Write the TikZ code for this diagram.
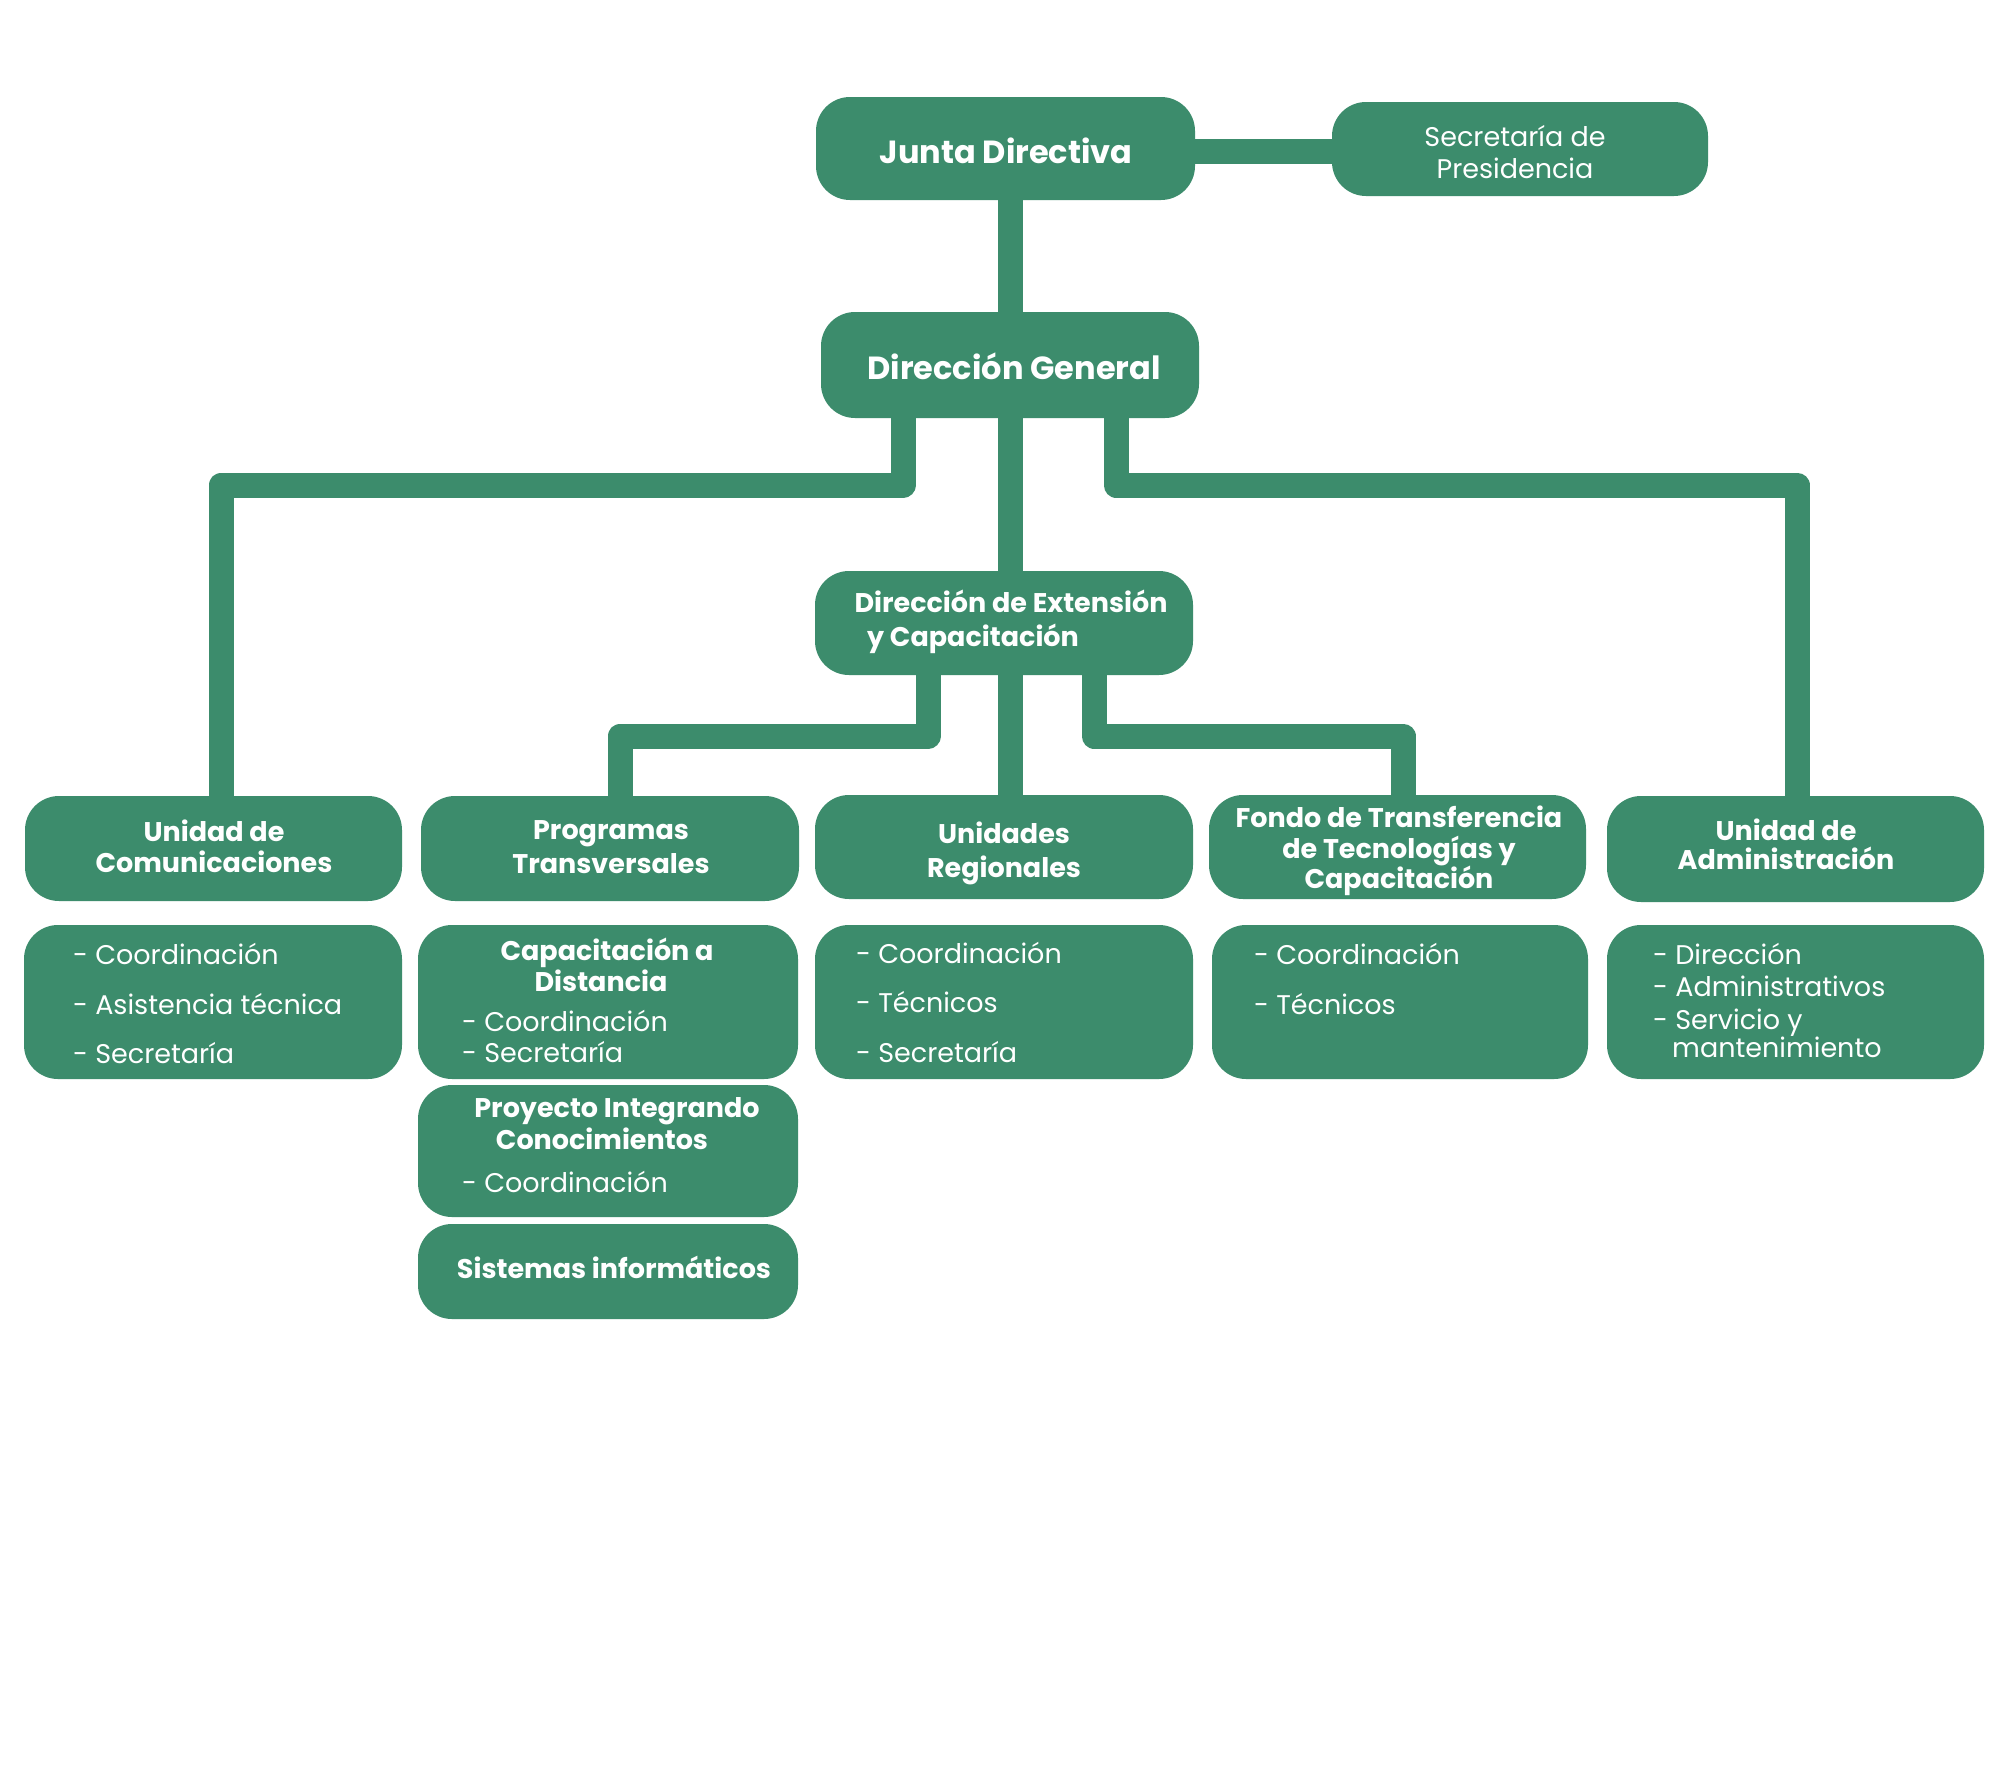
\documentclass[tikz,border=0pt]{standalone}
\usepackage{fontspec}
\setmainfont{Poppins}
\usetikzlibrary{backgrounds,calc}
\definecolor{gr}{RGB}{60,140,108}
\begin{document}
\begin{tikzpicture}[x=1pt,y=-1pt,
 conn/.style={draw=gr,line width=25pt,line join=round},
 box/.style={fill=gr,rounded corners=34pt,inner sep=0pt,outer sep=0pt},
 ttl/.style={text=white,font=\fontsize{27}{32}\selectfont\bfseries,inner sep=0pt,anchor=base},
 big/.style={text=white,font=\fontsize{32}{38}\selectfont\bfseries,inner sep=0pt,anchor=base},
 itm/.style={text=white,font=\fontsize{27}{32}\selectfont,inner sep=0pt,anchor=base west},
 itc/.style={text=white,font=\fontsize{27}{32}\selectfont,inner sep=0pt,anchor=base}]
\useasboundingbox (0,0) rectangle (2000,1772);
% boxes
\node[box,minimum width=379pt,minimum height=103pt] (jd) at (1005.5,148.5) {};
\node[box,minimum width=376pt,minimum height=94pt] (sp) at (1520,149) {};
\node[box,minimum width=378pt,minimum height=106pt] (dg) at (1010,365) {};
\node[box,minimum width=378pt,minimum height=104pt] (de) at (1004,623) {};
\node[box,minimum width=377pt,minimum height=105pt] (uc) at (213.5,848.5) {};
\node[box,minimum width=378pt,minimum height=105pt] (pt) at (610,848.5) {};
\node[box,minimum width=378pt,minimum height=104pt] (ur) at (1004,847) {};
\node[box,minimum width=377pt,minimum height=104pt] (ft) at (1397.5,847) {};
\node[box,minimum width=377pt,minimum height=106pt] (ua) at (1795.5,849) {};
\node[box,minimum width=378pt,minimum height=154pt] (ucd) at (213,1002) {};
\node[box,minimum width=380pt,minimum height=154pt] (cad) at (608,1002) {};
\node[box,minimum width=380pt,minimum height=132pt] (pic) at (608,1151) {};
\node[box,minimum width=380pt,minimum height=95pt] (si) at (608,1271.5) {};
\node[box,minimum width=378pt,minimum height=154pt] (urd) at (1004,1002) {};
\node[box,minimum width=376pt,minimum height=154pt] (ftd) at (1400,1002) {};
\node[box,minimum width=377pt,minimum height=154pt] (uad) at (1795.5,1002) {};
% connectors
\coordinate (jsl) at (1260,151);
\coordinate (dgl) at (903,485);
\coordinate (dgr) at (1116,485);
\coordinate (ucb) at (221,485);
\coordinate (uab) at (1797,485);
\coordinate (del) at (928,736);
\coordinate (der) at (1094,736);
\coordinate (ptb) at (620,736);
\coordinate (ftb) at (1403,736);
\coordinate (urb) at (1010,700);
\begin{scope}[on background layer]
\fill[white] (0,0) rectangle (2000,1772);
\draw[conn] (jsl -| jd.center) -- (jsl -| sp.center);
\draw[conn] (dg.center) -- (dg.center |- jd.center);
\draw[conn] (dg.center) -- (dg.center |- de.center);
\draw[conn] (dgl |- dg.center) -- (dgl) -- (ucb) -- (ucb |- uc.center);
\draw[conn] (dgr |- dg.center) -- (dgr) -- (uab) -- (uab |- ua.center);
\draw[conn] (del |- de.center) -- (del) -- (ptb) -- (ptb |- pt.center);
\draw[conn] (der |- de.center) -- (der) -- (ftb) -- (ftb |- ft.center);
\draw[conn] (urb |- de.center) -- (urb |- ur.center);
\end{scope}
% titles
\node[big] (tjd) at (1006,163) {Junta Directiva};
\node[itc] (tsp1) at (1515,146) {Secretaría de};
\node[itc] (tsp2) at (1515,178) {Presidencia};
\node[big] (tdg) at (1014,379) {Dirección General};
\node[ttl] (tde1) at (1011,612) {Dirección de Extensión};
\node[ttl,anchor=base west] (tde2) at (867,646) {y Capacitación};
\node[ttl] (tuc1) at (214,841) {Unidad de};
\node[ttl] (tuc2) at (214,872) {Comunicaciones};
\node[ttl] (tpt1) at (611,839) {Programas};
\node[ttl] (tpt2) at (611,873) {Transversales};
\node[ttl] (tur1) at (1004,843) {Unidades};
\node[ttl] (tur2) at (1004,877) {Regionales};
\node[ttl] (tft1) at (1399,827) {Fondo de Transferencia};
\node[ttl] (tft2) at (1399,858) {de Tecnologías y};
\node[ttl] (tft3) at (1399,888) {Capacitación};
\node[ttl] (tua1) at (1786,840) {Unidad de};
\node[ttl] (tua2) at (1786,869) {Administración};
% details
\node[itm] (iuc1) at (73,964) {- Coordinación};
\node[itm] (iuc2) at (73,1014) {- Asistencia técnica};
\node[itm] (iuc3) at (73,1063) {- Secretaría};
\node[ttl] (tca1) at (607,960) {Capacitación a};
\node[ttl] (tca2) at (601,991) {Distancia};
\node[itm] (ica1) at (462,1031) {- Coordinación};
\node[itm] (ica2) at (462,1062) {- Secretaría};
\node[ttl] (tpi1) at (617,1117) {Proyecto Integrando};
\node[ttl] (tpi2) at (602,1149) {Conocimientos};
\node[itm] (ipi1) at (462,1192) {- Coordinación};
\node[ttl] (tsi) at (614,1278) {Sistemas informáticos};
\node[itm] (iur1) at (856,963) {- Coordinación};
\node[itm] (iur2) at (856,1012) {- Técnicos};
\node[itm] (iur3) at (856,1062) {- Secretaría};
\node[itm] (ift1) at (1254,964) {- Coordinación};
\node[itm] (ift2) at (1254,1014) {- Técnicos};
\node[itm] (iua1) at (1653,964) {- Dirección};
\node[itm] (iua2) at (1653,996) {- Administrativos};
\node[itm] (iua3) at (1653,1029) {- Servicio y};
\node[itm] (iua4) at (1672,1057) {mantenimiento};
\end{tikzpicture}
\end{document}
